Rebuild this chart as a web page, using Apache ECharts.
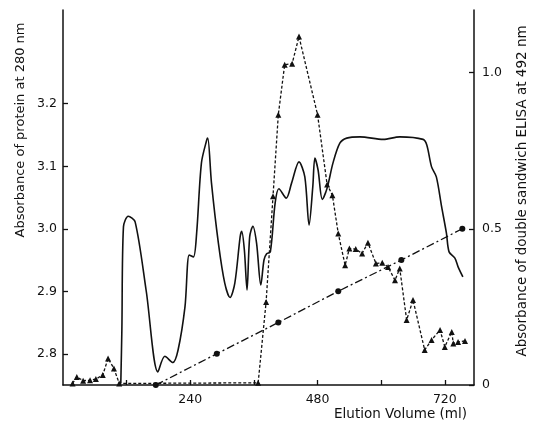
<!DOCTYPE html>
<html><head><meta charset="utf-8">
<script src="https://cdn.jsdelivr.net/npm/echarts@6/dist/echarts.min.js"></script>
<style>html,body{margin:0;padding:0;background:#fff}#c{width:538px;height:424px}</style>
</head><body><div id="c"></div>
<script>
// Protein absorbance at 280 nm (left axis)
var proteinX = [109,111,114,123,136,157,179,192,207,217,230,238,246,252,261,271,273,280,293,305,315,324,334,337,342,347,352,358,365,373,379,384,391,400,407,421,431,445,456,464,471,475,481,489,498,509,522,535,560,604,635,679,686,695,704,714,723,728,739,745,754];
var proteinY = [2.753,2.838,3.003,3.020,3.011,2.900,2.771,2.796,2.786,2.806,2.875,2.958,2.955,2.993,3.105,3.142,3.145,3.073,2.977,2.913,2.890,2.913,2.987,2.996,2.966,2.902,2.987,3.004,2.977,2.910,2.950,2.960,2.963,3.041,3.064,3.049,3.073,3.107,3.083,3.006,3.067,3.113,3.094,3.047,3.065,3.105,3.137,3.145,3.147,3.143,3.147,3.143,3.134,3.099,3.083,3.035,2.993,2.963,2.953,2.939,2.923];
// Double sandwich ELISA at 492 nm (right axis)
var elisaX = [18,26,38,51,62,75,85,96,106,368,383,396,406,418,432,445,480,498,508,519,532,540,552,564,575,590,602,613,626,635,648,660,682,695,711,720,733,736,745,758];
var elisaY = [0.005,0.026,0.014,0.015,0.019,0.032,0.085,0.053,0.005,0.007,0.266,0.604,0.865,1.025,1.028,1.115,0.865,0.642,0.607,0.485,0.383,0.437,0.435,0.421,0.455,0.389,0.391,0.378,0.335,0.373,0.208,0.272,0.112,0.144,0.176,0.122,0.170,0.133,0.138,0.141];
// Gradient (dash-dot with circles, right axis scale)
var gradX = [175,290,406,519,638,753];
var gradY = [0.0,0.1,0.2,0.3,0.4,0.5];
// Tick labels
var xTickValues = [120,240,360,480,600,720];
var xTickLabels = [240,480,720];
var leftTicks = [2.8,2.9,3.0,3.1,3.2];
var rightTicks = [0,0.5,1.0];

function pairs(xs, ys){ return xs.map(function(x,i){ return [x, ys[i]]; }); }

var FONT = 'DejaVu Sans';
var chart = echarts.init(document.getElementById('c'), null, {renderer:'canvas'});
chart.setOption({
  animation:false,
  backgroundColor:'#fff',
  textStyle:{fontFamily:FONT, color:'#111'},
  grid:{left:63, right:64, top:10, bottom:39},
  xAxis:{
    type:'value', min:0, max:775,
    axisLine:{lineStyle:{color:'#111', width:1.5}},
    axisTick:{inside:true, length:5, customValues:xTickValues, lineStyle:{color:'#111', width:1.3}},
    axisLabel:{customValues:xTickLabels, color:'#111', fontSize:12.5, fontFamily:FONT, margin:8},
    splitLine:{show:false}
  },
  yAxis:[{
    type:'value', min:2.75, max:3.35, position:'left',
    axisLine:{show:true, lineStyle:{color:'#111', width:1.5}},
    axisTick:{show:true, inside:true, length:5, customValues:leftTicks, lineStyle:{color:'#111', width:1.3}},
    axisLabel:{customValues:leftTicks, color:'#111', fontSize:12.5, fontFamily:FONT, margin:6,
      formatter:function(v){ return v.toFixed(1); }},
    splitLine:{show:false}
  },{
    type:'value', min:0, max:1.2, position:'right',
    axisLine:{show:true, lineStyle:{color:'#111', width:1.5}},
    axisTick:{show:true, inside:true, length:5, customValues:rightTicks, lineStyle:{color:'#111', width:1.3}},
    axisLabel:{customValues:rightTicks, color:'#111', fontSize:12.5, fontFamily:FONT, margin:8,
      formatter:function(v){ return v===0 ? '0' : v.toFixed(1); }},
    splitLine:{show:false}
  }],
  graphic:[
    {type:'text', x:21, y:130, rotation:Math.PI/2,
     style:{text:'Absorbance of protein at 280 nm', fill:'#111', font:'13px "DejaVu Sans"', textAlign:'center', textVerticalAlign:'middle'}},
    {type:'text', x:522, y:191, rotation:Math.PI/2,
     style:{text:'Absorbance of double sandwich ELISA at 492 nm', fill:'#111', font:'13.5px "DejaVu Sans"', textAlign:'center', textVerticalAlign:'middle'}},
    {type:'text', x:467, y:414,
     style:{text:'Elution Volume (ml)', fill:'#111', font:'13.5px "DejaVu Sans"', textAlign:'right', textVerticalAlign:'middle'}}
  ],
  series:[
    {type:'line', yAxisIndex:0, data:pairs(proteinX, proteinY), smooth:0.3,
     showSymbol:false, lineStyle:{color:'#111', width:1.6}},
    {type:'line', yAxisIndex:1, data:pairs(elisaX, elisaY), symbol:'triangle', symbolSize:6,
     itemStyle:{color:'#111'}, lineStyle:{color:'#111', width:1.3, type:[3,2]}},
    {type:'line', yAxisIndex:1, data:pairs(gradX, gradY), symbol:'circle', symbolSize:6,
     itemStyle:{color:'#111'}, lineStyle:{color:'#111', width:1.3, type:[8,3,2,3]}}
  ]
});
</script></body></html>
